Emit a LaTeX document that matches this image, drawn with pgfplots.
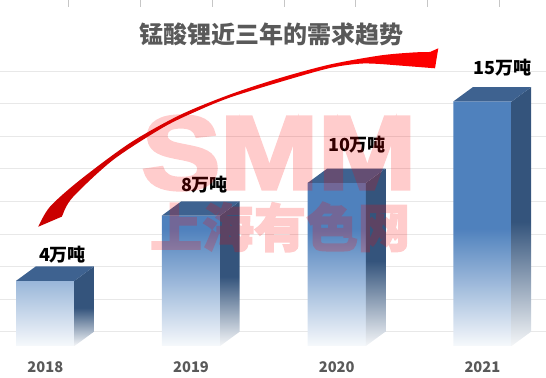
\documentclass[border=0pt]{standalone}
\usepackage{fontspec}
\usepackage{pgfplots}
\usepackage{pgfplotstable}
\pgfplotsset{compat=1.18}
\newfontfamily\cjk{Noto Sans CJK SC}
\newfontfamily\cjkheavy{Noto Sans CJK SC}[BoldFeatures={FakeBold=2.5}]
\newfontfamily\wmfont{Liberation Sans}[BoldFeatures={FakeBold=3.5}]
\definecolor{barblue}{RGB}{79,129,189}
\definecolor{sideblue}{RGB}{52,84,124}
\definecolor{topblue}{RGB}{62,98,144}
\definecolor{gridgray}{RGB}{232,232,232}
\definecolor{txtgray}{RGB}{89,89,89}
\definecolor{arrowdark}{RGB}{200,0,0}
\definecolor{arrowpink}{RGB}{255,140,140}
\pgfdeclareverticalshading{frontfade}{100bp}{color(0bp)=(white); color(25bp)=(white!95!barblue); color(49bp)=(barblue); color(100bp)=(barblue)}
\pgfdeclareverticalshading{sidefade}{100bp}{color(0bp)=(white); color(25bp)=(white!95!sideblue); color(49bp)=(sideblue); color(100bp)=(sideblue)}
\pgfdeclareplotmark{nomark}{}

\pgfplotstableread{
x y lab dx dy
0 4 4万吨 17.2 26
1 8 8万吨 13.5 30.6
2 10 10万吨 20.3 38
3 15 15万吨 19.7 33.5
}\datatable

\begin{document}
\begin{tikzpicture}
\useasboundingbox (0,0) rectangle (546bp,378bp);
\begin{axis}[
  at={(0,0)}, anchor=south west,
  width=546bp, height=378bp, scale only axis,
  xmin=-0.31091, xmax=3.43651, ymin=-1.96319, ymax=21.22699,
  axis line style={draw=none}, tick style={draw=none},
  ytick={0.859,2.859,4.859,6.859,8.859,10.859,12.859,14.859,16.859},
  yticklabels={},
  ymajorgrids, grid style={gridgray, line width=1bp},
  xtick={0,1,2,3},
  xticklabels={\textbf{2018},\textbf{2019},\textbf{2020},\textbf{2021}},
  xticklabel style={anchor=center, yshift=11.3bp, text=txtgray, font=\cjk\bfseries\fontsize{14.7bp}{16bp}\selectfont},
  clip=false,
]
% front faces
\addplot[ybar, bar width=0.4, bar shift=0pt, draw=none, shade, shading=frontfade] table[x=x, y=y]{\datatable};
% side and top faces
\addplot[scatter, only marks, mark=nomark, draw=none,
  visualization depends on={rawy \as \hv},
  scatter/@pre marker code/.code={%
    \pgfmathsetmacro\H{\hv*16.3}%
    \shade[draw=none, shading=sidefade] (29.15bp,0bp) -- (48.65bp,14.3bp) -- (48.65bp,{14.3bp-\H bp}) -- (29.15bp,{-\H bp}) -- cycle;
    \fill[draw=none, topblue] (-29.15bp,0bp) -- (29.15bp,0bp) -- (48.65bp,14.3bp) -- (-9.65bp,14.3bp) -- cycle;
  },
  scatter/@post marker code/.code={},
] table[x=x, y=y]{\datatable};
% value labels
\addplot[only marks, mark=nomark,
  point meta=explicit symbolic,
  nodes near coords,
  visualization depends on={\thisrow{dx} \as \ldx},
  visualization depends on={\thisrow{dy} \as \ldy},
  every node near coord/.style={anchor=center, xshift=\ldx bp, yshift=\ldy bp, text=black, font=\cjk\bfseries\fontsize{18bp}{20bp}\selectfont},
] table[x=x, y=y, meta=lab]{\datatable};
\end{axis}
\begin{scope}[shift={(0,378bp)}, x=1bp, y=-1bp]
  % short marks along the top edge
  \foreach \xx in {68.6,140.4,212.2,284,355.8,427.6,499.4}
    \draw[gray!45, line width=0.8bp] (\xx,0) -- (\xx,7);
  % title
  \node[text=txtgray, font=\cjk\bfseries\fontsize{24bp}{28bp}\selectfont] at (271.5,34) {锰酸锂近三年的需求趋势};
  % watermark
  \begin{scope}[transparency group, opacity=0.2]
    \node[text=red, font=\wmfont\bfseries\fontsize{104bp}{110bp}\selectfont, xscale=1.13, inner sep=0pt] at (279,153) {SMM};
    \node[text=red, font=\cjkheavy\bfseries\fontsize{52bp}{56bp}\selectfont, inner sep=0pt] at (280,227) {上海有色网};
  \end{scope}
  % curved arrow
  \shade[left color=arrowdark, middle color=arrowpink, right color=red]
    plot[smooth, tension=0.5] coordinates {(38.3,226.7) (50,206.7) (80,180) (130,143) (180,115) (230,94.5) (280,78) (330,64.5) (380,55.5) (413,52.5) (430,52)}
    -- (438.3,48.3) -- (435,68.3) -- (393,65)
    -- plot[smooth, tension=0.5] coordinates {(393,65) (363,63.5) (330,68) (280,82) (230,97.5) (197,111) (163,127.5) (113,160) (73,197) (63,214)}
    -- (61.7,216.7) -- cycle;
\end{scope}
\end{tikzpicture}
\end{document}
